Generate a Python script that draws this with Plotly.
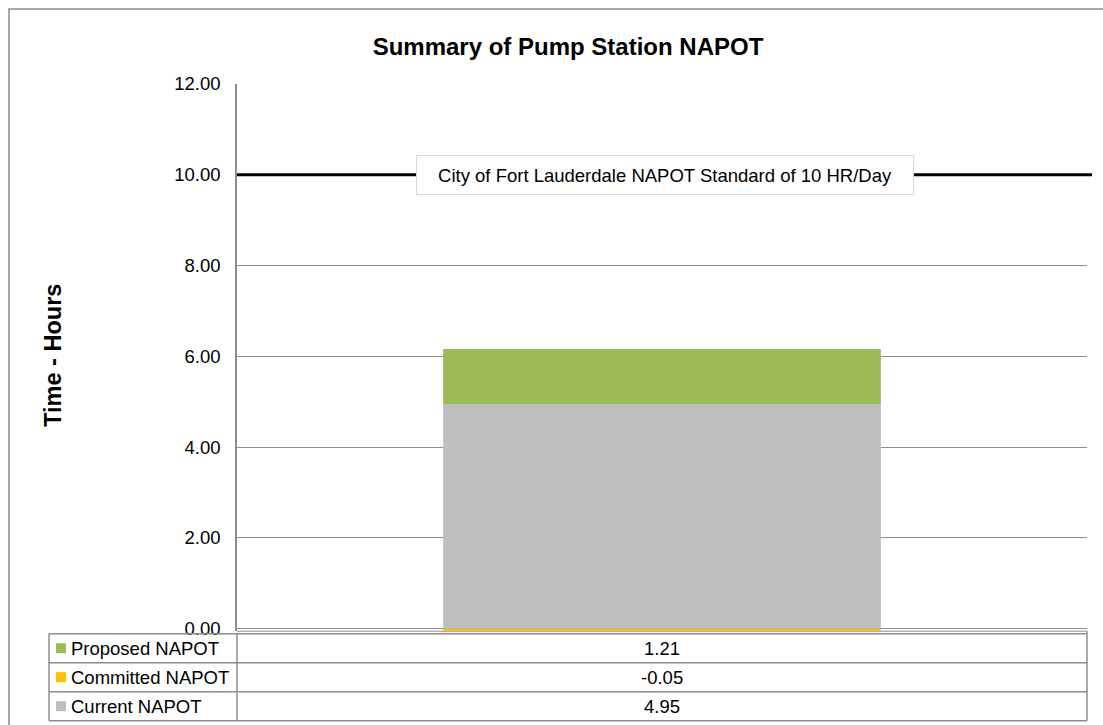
import plotly.graph_objects as go

# ---- data ----
series_names = ["Proposed NAPOT", "Committed NAPOT", "Current NAPOT"]
series_values = [1.21, -0.05, 4.95]
series_colors = ["#9BBB59", "#FFC000", "#BFBFBF"]
category = [""]
standard_value = 10
standard_label = "City of Fort Lauderdale NAPOT Standard of 10 HR/Day"
tick_vals = [0, 2, 4, 6, 8, 10, 12]

W, H = 1103, 725
PX0, PX1 = 237, 1087          # plot area left/right (px)
PY_TOP, PY_BOT = 84, 631.3    # plot area top/bottom (px)
PW, PH = PX1 - PX0, PY_BOT - PY_TOP

def px(x):
    return (x - PX0) / PW

def py(y):
    return (PY_BOT - y) / PH

FONT = "Liberation Sans, Arial, sans-serif"
FS = 18.5

fig = go.Figure()
# stack order: current at bottom, proposed on top, committed negative
for idx in [2, 1, 0]:
    fig.add_trace(go.Bar(
        x=category, y=[series_values[idx]], name=series_names[idx],
        marker=dict(color=series_colors[idx], line=dict(width=0)),
        hoverinfo="name+y",
    ))

shapes = []
annotations = []

# outer chart border (extends off the right/bottom edges)
shapes.append(dict(type="rect", xref="paper", yref="paper",
                   x0=px(9), x1=px(1112), y0=py(9), y1=py(740),
                   line=dict(color="#8c8c8c", width=1.5), layer="below"))

# standard line
shapes.append(dict(type="line", xref="paper", yref="y",
                   x0=0, x1=px(1092), y0=standard_value, y1=standard_value,
                   line=dict(color="black", width=3)))
annotations.append(dict(
    xref="paper", yref="y", x=px(665), y=standard_value,
    text=standard_label, showarrow=False,
    font=dict(family=FONT, size=FS, color="black"),
    bgcolor="white", bordercolor="#d9d9d9", borderwidth=1,
    width=494, height=36, xanchor="center", yanchor="middle"))

# data table
tbl_left, tbl_mid, tbl_right = 49, 237, 1087
row_edges = [634, 663, 692, 721]
grid_col = "#8c8c8c"
for yy in row_edges:
    shapes.append(dict(type="line", xref="paper", yref="paper",
                       x0=px(tbl_left), x1=px(tbl_right), y0=py(yy), y1=py(yy),
                       line=dict(color=grid_col, width=1.5)))
for xx in [tbl_left, tbl_mid, tbl_right]:
    shapes.append(dict(type="line", xref="paper", yref="paper",
                       x0=px(xx), x1=px(xx), y0=py(row_edges[0]), y1=py(row_edges[-1]),
                       line=dict(color=grid_col, width=1.5)))
shapes.append(dict(type="line", xref="paper", yref="paper",
                   x0=px(tbl_mid), x1=px(tbl_right), y0=py(631.5), y1=py(631.5),
                   line=dict(color=grid_col, width=1), layer="below"))
shapes.append(dict(type="line", xref="paper", yref="paper",
                   x0=px(tbl_right), x1=px(tbl_right), y0=py(631.5), y1=py(634),
                   line=dict(color=grid_col, width=1.5)))

for i, (name, val, col) in enumerate(zip(series_names, series_values, series_colors)):
    cy = (row_edges[i] + row_edges[i + 1]) / 2
    shapes.append(dict(type="rect", xref="paper", yref="paper",
                       x0=px(56), x1=px(66), y0=py(cy - 5), y1=py(cy + 5),
                       fillcolor=col, line=dict(width=0)))
    annotations.append(dict(xref="paper", yref="paper", x=px(69), y=py(cy),
                            text=name, showarrow=False, xanchor="left", yanchor="middle",
                            font=dict(family=FONT, size=FS, color="black")))
    annotations.append(dict(xref="paper", yref="paper", x=px(662), y=py(cy),
                            text=f"{val:.2f}", showarrow=False, xanchor="center",
                            yanchor="middle",
                            font=dict(family=FONT, size=FS, color="black")))

# y axis title
annotations.append(dict(xref="paper", yref="paper", x=px(53), y=py(356),
                        text="<b>Time - Hours</b>", showarrow=False, textangle=-90,
                        xanchor="center", yanchor="middle",
                        font=dict(family=FONT, size=23.5, color="black")))

fig.update_layout(
    width=W, height=H,
    margin=dict(l=PX0, r=W - PX1, t=PY_TOP, b=H - PY_BOT, pad=0),
    barmode="relative", bargap=0.485,
    showlegend=False,
    plot_bgcolor="white", paper_bgcolor="white",
    title=dict(text="<b>Summary of Pump Station NAPOT</b>", x=568 / W, xanchor="center",
               y=1 - 47 / H, yanchor="middle",
               font=dict(family=FONT, size=24, color="black")),
    font=dict(family=FONT, size=FS, color="black"),
    xaxis=dict(visible=False, range=[-0.5, 0.5]),
    yaxis=dict(range=[-0.05, 12], tickvals=tick_vals, tickformat=".2f",
               showgrid=True, gridcolor="#8c8c8c", gridwidth=1,
               zeroline=True, zerolinecolor="#8c8c8c", zerolinewidth=1,
               showline=True, linecolor="#8c8c8c", linewidth=1.5,
               ticks="", ticklabelstandoff=11,
               tickfont=dict(family=FONT, size=FS, color="black")),
    shapes=shapes, annotations=annotations,
)

fig.write_html("out.html",
               config={"displayModeBar": False},
               post_script="document.body.style.margin='0px';document.body.style.overflow='hidden';")
